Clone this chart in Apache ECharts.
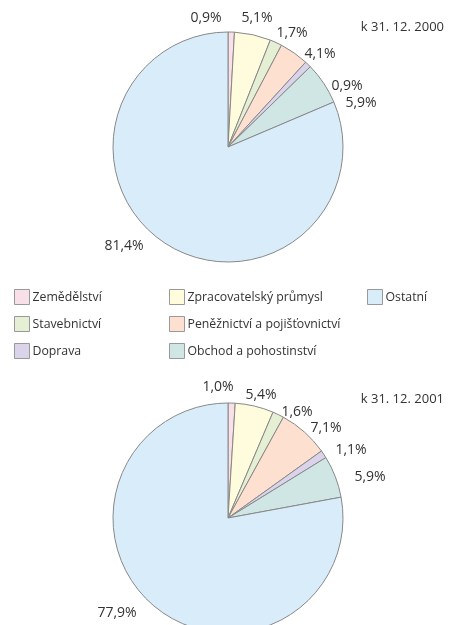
<!DOCTYPE html>
<html>
<head>
<meta charset="utf-8">
<script src="https://cdn.jsdelivr.net/npm/echarts@6/dist/echarts.min.js"></script>
<style>
  html, body { margin: 0; padding: 0; background: #fff; }
  #chart { width: 451px; height: 625px; }
</style>
</head>
<body>
<div id="chart"></div>
<script>
// odvětví v pořadí po směru hodin od 12 h
const categories = [
  "Zemědělství",
  "Zpracovatelský průmysl",
  "Stavebnictví",
  "Peněžnictví a pojišťovnictví",
  "Doprava",
  "Obchod a pohostinství",
  "Ostatní"
];
const values2000 = [0.9, 5.1, 1.7, 4.1, 0.9, 5.9, 81.4];
const values2001 = [1.0, 5.4, 1.6, 7.1, 1.1, 5.9, 77.9];
const titles = ["k 31. 12. 2000", "k 31. 12. 2001"];

// legenda po sloupcích
const legendCols = [
  ["Zemědělství", "Stavebnictví", "Doprava"],
  ["Zpracovatelský průmysl", "Peněžnictví a pojišťovnictví", "Obchod a pohostinství"],
  ["Ostatní"]
];

const colors = ["#f9dfe8", "#fefcdc", "#e5efd4", "#fde0d0", "#dad3ea", "#cfe6e5", "#d9ecfa"];
const font = "'Open Sans', sans-serif";

// popisky jsou v originale rozmistene rucne - posun stredu popisku od stredu kolace
const labelOffsets = [
  [[-22, -129], [29, -129], [64, -114], [92, -93], [119, -61], [133, -44], [-104, 99]],
  [[-10, -131], [33, -123], [69, -106], [98, -90], [123, -68], [142, -41], [-111, 95]]
];
const centers = [[228, 147], [228, 518]];

function pieSeries(values, idx) {
  return {
    type: "pie",
    center: centers[idx],
    radius: [0, 115],
    startAngle: 90,
    clockwise: true,
    animation: false,
    silent: true,
    data: categories.map((name, i) => ({ name: name, value: values[i] })),
    itemStyle: { borderColor: "#888", borderWidth: 1 },
    label: {
      show: true,
      position: "outside",
      formatter: p => p.value.toFixed(1).replace(".", ",") + "%",
      color: "#333",
      fontSize: 14,
      fontFamily: font
    },
    labelLine: { show: false },
    avoidLabelOverlap: false,
    labelLayout: p => {
      const o = labelOffsets[idx][p.dataIndex];
      return {
        x: centers[idx][0] + o[0],
        y: centers[idx][1] + o[1],
        align: "center",
        verticalAlign: "middle"
      };
    }
  };
}

const chart = echarts.init(document.getElementById("chart"));
chart.setOption({
  color: colors,
  title: titles.map((t, i) => ({
    text: t,
    right: 2,
    top: i === 0 ? 16 : 388,
    textStyle: { fontSize: 13, fontWeight: "normal", color: "#333", fontFamily: font }
  })),
  legend: legendCols.map((col, i) => ({
    data: col,
    orient: "vertical",
    left: [14, 169, 367][i],
    top: 289,
    padding: 0,
    itemWidth: 15,
    itemHeight: 15,
    itemGap: 11,
    icon: "rect",
    selectedMode: false,
    itemStyle: { borderColor: "#999", borderWidth: 1 },
    textStyle: { fontSize: 12.3, color: "#333", fontFamily: font, padding: [4, 0, 0, -2] }
  })),
  series: [pieSeries(values2000, 0), pieSeries(values2001, 1)]
});
</script>
</body>
</html>
